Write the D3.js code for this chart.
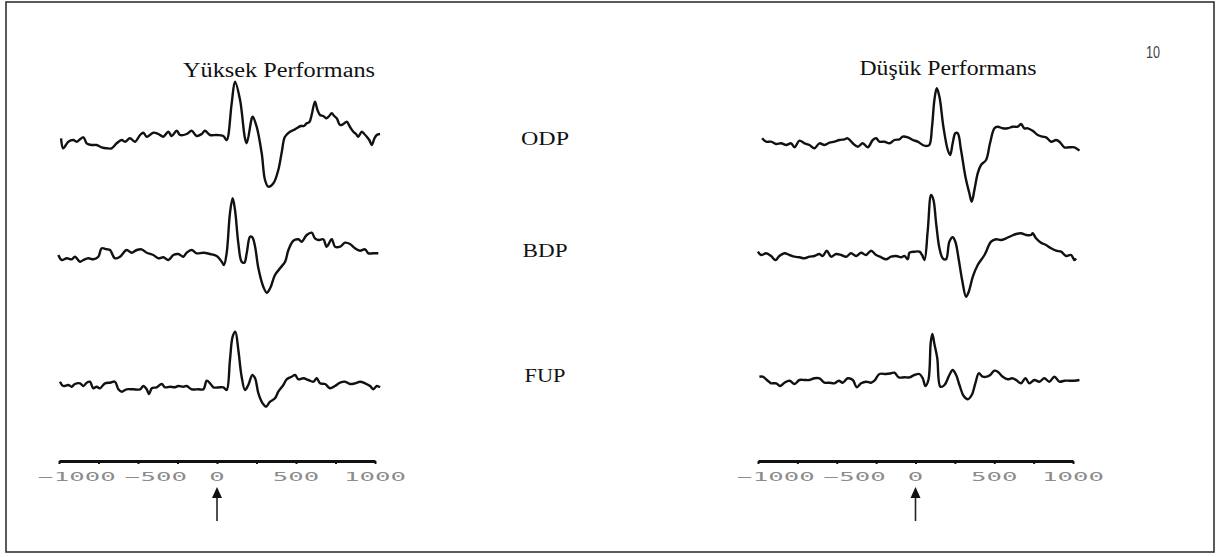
<!DOCTYPE html>
<html>
<head>
<meta charset="utf-8">
<script src="https://cdn.jsdelivr.net/npm/d3@7"></script>
<style>
body{margin:0;background:#fff;}
svg{display:block;}
</style>
</head>
<body>
<svg id="chart" width="1216" height="557"></svg>
<script>
// ERP traces, [time ms, amplitude]
const conditions=["ODP","BDP","FUP"];
const panelTitles=["Yüksek Performans","Düşük Performans"];
const tickValues=[-1000,-750,-500,-250,0,250,500,750,1000];
const tickLabels=[-1000,-500,0,500,1000];
const pageNumber="10";

const highODP=[[-987,1.7],[-973,-8.3],[-941,-1.7],[-909,0],[-888,-1.7],[-846,2.7],[-825,-3.3],[-793,-5],[-762,-5],[-730,-7.3],[-698,-8.3],[-667,-8.3],[-635,-3.3],[-603,0],[-582,-1.7],[-551,1.7],[-519,-1.7],[-487,5],[-466,7.3],[-445,3.3],[-403,7.3],[-371,6],[-340,3.3],[-308,8.3],[-287,4],[-255,9.3],[-234,5],[-192,6],[-160,9.3],[-129,4],[-97,6],[-76,9.3],[-44,5],[-2,5],[40,4],[61,0],[93,36.7],[114,58.3],[146,40],[177,1.7],[188,-3.3],[220,21.7],[226,23.3],[251,13.3],[283,-13.3],[304,-40],[325,-46.7],[357,-43.3],[388,-30],[410,-12],[430,3.3],[462,8.3],[485,10],[504,11.7],[530,14],[550,14],[568,16.7],[585,18],[599,25],[620,38.3],[636,30],[652,25],[672,24],[694,21.7],[710,24],[726,26.7],[742,24],[758,21.7],[779,15],[800,16],[821,18.3],[842,13],[863,8.3],[880,6],[894,3.3],[916,8.3],[932,6],[948,3.3],[964,0],[979,-5],[995,1],[1011,5],[1032,6]];
const highBDP=[[-1004,1],[-983,-4],[-951,-2.3],[-920,-3.3],[-899,-0.7],[-867,-5.7],[-846,-4],[-814,-2.3],[-783,-3.3],[-751,-0.7],[-730,7.7],[-698,6.7],[-677,6],[-646,-2.3],[-614,-0.7],[-572,6],[-540,3.3],[-508,6],[-477,6.7],[-445,3.3],[-403,1],[-371,-2.3],[-340,-1.3],[-308,-4],[-276,1],[-245,2],[-213,-0.7],[-192,3.3],[-160,6],[-129,2.7],[-86,3.3],[-44,2],[-2,0],[30,-5.7],[44,-9],[61,2.7],[82,42.7],[99,57.7],[114,46],[135,12.7],[156,-5.7],[173,-6.7],[188,2.7],[209,19.3],[224,18.7],[241,9.3],[262,-12.3],[293,-30.7],[315,-36.7],[336,-32.3],[367,-19],[399,-12.3],[431,-5.7],[452,6],[483,15.3],[515,16.7],[536,14.3],[568,21],[599,23.3],[620,17.7],[642,16],[673,16.7],[694,9.3],[726,16.7],[747,9.3],[779,9.3],[810,13.3],[842,12],[874,7.7],[905,5.3],[937,6.7],[958,2.7],[990,2.7],[1021,2.7]];
const highFUP=[[-994,4.3],[-973,0],[-941,1],[-920,-0.7],[-899,2],[-867,2.7],[-846,0],[-825,3.3],[-804,4.3],[-783,-2.3],[-762,-0.7],[-741,-2.3],[-709,2.7],[-677,3.3],[-646,4.3],[-624,-3.3],[-603,-5.7],[-572,-3.3],[-530,-3.3],[-487,-3.3],[-466,0],[-445,-3.3],[-430,-8],[-413,-2.3],[-382,-1.3],[-350,2],[-329,-1.3],[-297,-0.7],[-266,-1.3],[-245,0],[-213,-0.7],[-192,0],[-160,-3.3],[-118,-3.3],[-86,-3.3],[-65,5.3],[-44,2.7],[-23,-1.3],[19,-1.3],[40,-1.3],[61,-4],[82,26],[99,49.3],[116,54.3],[135,36],[156,9.3],[177,-4],[198,1],[224,11],[241,7.7],[262,-7.3],[289,-17.3],[310,-20.7],[336,-15.7],[367,-12.3],[388,-5.7],[420,1],[441,6.7],[473,9.3],[494,11],[515,6.7],[547,7.7],[578,6],[610,4.3],[631,7.7],[652,2.7],[684,2],[715,-2.3],[747,0],[779,3.3],[810,4.3],[842,2],[874,2.7],[905,4.3],[937,2.7],[969,0],[990,-3.3],[1011,0],[1032,-1.3]];
const lowODP=[[-974,4.7],[-948,1.3],[-917,1.3],[-885,-1],[-853,-0.3],[-821,-2],[-790,-0.3],[-768,-4.3],[-737,2.3],[-705,-0.3],[-673,-2],[-642,-5.3],[-610,-0.3],[-578,-2],[-546,0.3],[-515,1.3],[-483,3],[-451,3.7],[-430,4.7],[-398,-0.3],[-366,-3.7],[-335,-0.3],[-303,-4.3],[-271,3],[-250,4.7],[-229,1.3],[-197,1.3],[-165,-0.3],[-134,3],[-102,3.7],[-81,6.3],[-49,5.7],[-17,3],[14,1.3],[46,-2],[67,-3],[88,-2],[105,16.3],[120,43],[135,54.7],[152,46.3],[177,16.3],[205,-7],[220,-12],[236,-0.3],[253,9.7],[268,9.7],[289,-7],[317,-33.7],[342,-50.3],[357,-58.7],[374,-47],[395,-30.3],[416,-22],[448,-17],[473,-0.3],[501,14.7],[522,16.3],[554,14.7],[586,14.7],[617,16.3],[649,16.3],[670,19],[691,14.7],[713,14.7],[744,12.3],[776,8],[808,6.3],[829,5.7],[861,1.3],[893,3],[914,1.3],[945,-4.3],[977,-4.3],[1009,-4.3],[1041,-7.7]];
const lowBDP=[[-1001,4.3],[-980,1],[-948,2.7],[-917,0],[-889,-4],[-864,0],[-832,2.7],[-800,1],[-768,-0.7],[-737,-1.3],[-705,-2.3],[-673,-0.7],[-642,0],[-610,2],[-589,0],[-563,5.3],[-536,-0.7],[-504,2],[-472,1],[-440,-0.7],[-409,2.7],[-377,0],[-345,3.3],[-314,1],[-282,5.3],[-250,1],[-218,-1.3],[-187,-3.3],[-155,-0.7],[-123,0],[-91,-1.3],[-70,0],[-49,-3.3],[-38,3.3],[-7,4.3],[25,4.3],[42,1],[57,-4],[78,26],[99,61],[114,56],[131,32.7],[152,7.7],[173,-2.3],[194,-3.3],[215,14.3],[236,18.7],[253,14.3],[275,-4],[296,-24],[321,-40.7],[338,-35.7],[364,-20.7],[395,-9],[438,1],[480,14.3],[512,16.7],[543,16],[575,17.7],[607,20],[639,22],[670,22.7],[702,21],[734,21],[744,22.7],[765,17.7],[797,13.3],[829,11],[861,7.7],[893,5.3],[924,4.3],[956,0],[988,1],[1009,-4],[1019,-2.3]];
const lowFUP=[[-991,3.3],[-970,3.3],[-938,-0.7],[-917,-3.3],[-885,-3.3],[-860,-6],[-832,-2.7],[-800,-0.7],[-768,-4],[-737,0],[-705,0],[-673,0],[-642,1.7],[-610,1.7],[-578,-2.7],[-546,-2.7],[-515,-3.3],[-487,-0.7],[-462,-2.7],[-430,1.7],[-398,0],[-373,-7.3],[-345,-3.3],[-314,-1.7],[-282,-2.7],[-261,-0.7],[-229,6],[-187,6],[-155,6.7],[-134,7.3],[-106,2.7],[-70,2.7],[-38,2.7],[-7,5],[25,6],[46,1.7],[63,-6],[82,0],[97,38],[107,46],[120,36],[138,22],[158,-6.7],[184,-5],[215,5],[236,10],[258,5],[279,-5],[306,-16],[332,-19.3],[357,-15],[380,-3.3],[402,6.7],[427,3.3],[452,3.3],[474,5],[501,9.3],[522,8.3],[554,3.3],[586,0.7],[613,1.7],[639,0],[670,-3.3],[698,1.7],[723,-3.3],[755,0],[787,-1.7],[818,1.7],[850,-1.7],[882,3.3],[914,-1.7],[945,-0.7],[977,-0.7],[1009,-0.7],[1041,0]];

const svg=d3.select("#chart");

// page frame
svg.append("rect")
    .attr("x",6).attr("y",2)
    .attr("width",1208).attr("height",550)
    .attr("fill","none")
    .attr("stroke","#333")
    .attr("stroke-width",1.6);

svg.append("text")
    .attr("x",1153).attr("y",58)
    .attr("text-anchor","middle")
    .attr("font-family","Liberation Sans Narrow, Liberation Sans, sans-serif")
    .attr("font-size",16)
    .attr("textLength",14)
    .attr("lengthAdjust","spacingAndGlyphs")
    .attr("fill","#444")
    .text(pageNumber);

const panels=[
    {title:panelTitles[0],range:[59,375],titleX:279,titleW:192,titleY:77,rows:[140,256,386],series:[highODP,highBDP,highFUP]},
    {title:panelTitles[1],range:[758,1073],titleX:948,titleW:177,titleY:75,rows:[143,256,380],series:[lowODP,lowBDP,lowFUP]}
];
const axisY=461;

panels.forEach(p=>{
    const x=d3.scaleLinear().domain([-1000,1000]).range(p.range);

    svg.append("text")
        .attr("x",p.titleX).attr("y",p.titleY)
        .attr("text-anchor","middle")
        .attr("font-family","Liberation Serif, Times New Roman, serif")
        .attr("font-size",20)
        .attr("textLength",p.titleW)
        .attr("lengthAdjust","spacingAndGlyphs")
        .attr("fill","#111")
        .text(p.title);

    p.series.forEach((s,i)=>{
        const yc=p.rows[i];
        const y=d3.scaleLinear().domain([-60,60]).range([yc+60,yc-60]);
        const line=d3.line()
            .x(d=>x(d[0]))
            .y(d=>y(d[1]))
            .curve(d3.curveCatmullRom.alpha(0.5));
        svg.append("path")
            .datum(s)
            .attr("d",line)
            .attr("fill","none")
            .attr("stroke","#111")
            .attr("stroke-width",2.4)
            .attr("stroke-linejoin","round");
    });

    const ax=svg.append("g")
        .attr("transform",`translate(0,${axisY})`)
        .call(d3.axisBottom(x).tickValues(tickValues).tickSize(3).tickSizeOuter(0).tickFormat(""));
    ax.select(".domain").attr("stroke","#111").attr("stroke-width",3);
    ax.selectAll(".tick line").attr("stroke","#111").attr("stroke-width",2);

    ax.selectAll(".lbl")
        .data(tickLabels)
        .enter()
        .append("text")
        .attr("class","lbl")
        .attr("x",d=>x(d)+(d<0?18:0))
        .attr("y",20)
        .attr("text-anchor","middle")
        .attr("font-family","DejaVu Sans Mono, monospace")
        .attr("font-size",11.5)
        .attr("fill","#8c8c8c")
        .attr("textLength",d=>String(Math.abs(d)).length*15.5+(d<0?15.5:0))
        .attr("lengthAdjust","spacingAndGlyphs")
        .text(d=>d<0?"−"+Math.abs(d):d);

    // stimulus onset arrow
    const x0=x(0);
    svg.append("line")
        .attr("x1",x0).attr("x2",x0)
        .attr("y1",494).attr("y2",521)
        .attr("stroke","#222").attr("stroke-width",1.6);
    svg.append("path")
        .attr("d",`M${x0},487L${x0-5},498L${x0+5},498Z`)
        .attr("fill","#111");
});

// condition labels in the middle
svg.selectAll(".cond")
    .data(conditions)
    .enter()
    .append("text")
    .attr("class","cond")
    .attr("x",545)
    .attr("y",(d,i)=>[145,257,382][i])
    .attr("text-anchor","middle")
    .attr("font-family","Liberation Serif, Times New Roman, serif")
    .attr("font-size",19)
    .attr("textLength",(d,i)=>[48,45,41][i])
    .attr("lengthAdjust","spacingAndGlyphs")
    .attr("fill","#111")
    .text(d=>d);
</script>
</body>
</html>
